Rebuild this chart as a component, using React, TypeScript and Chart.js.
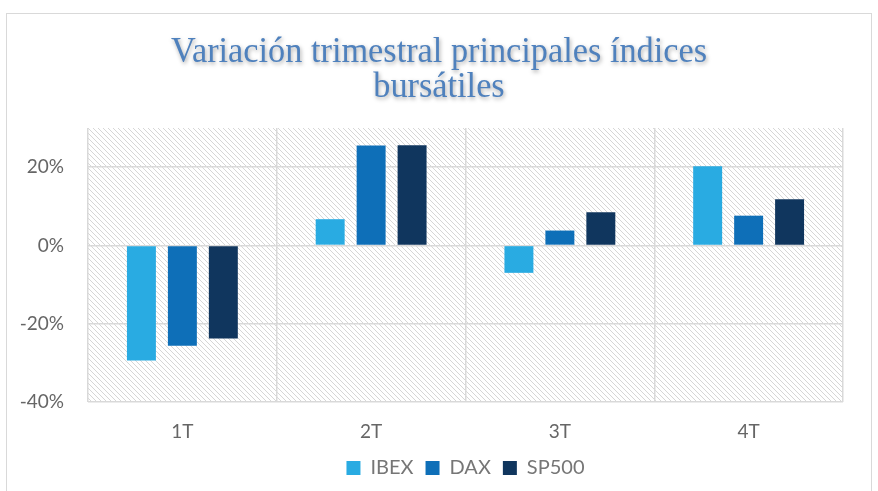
import React, { useEffect, useRef } from "react";
import { Chart, registerables } from "chart.js";

Chart.register(...registerables);

const categories = ["1T", "2T", "3T", "4T"];
const ibex = [-29.4, 6.7, -7.0, 20.2];
const dax = [-25.6, 25.5, 3.8, 7.6];
const sp500 = [-23.8, 25.6, 8.5, 11.8];
const titleLines = ["Variación trimestral principales índices", "bursátiles"];

const hatchPlugin = {
  id: "hatchBg",
  beforeDraw(chart: any) {
    const { ctx, chartArea } = chart;
    if (!chartArea) return;
    const tile = document.createElement("canvas");
    tile.width = 5;
    tile.height = 5;
    const t = tile.getContext("2d")!;
    t.fillStyle = "#ffffff";
    t.fillRect(0, 0, 5, 5);
    t.strokeStyle = "#d6d6d6";
    t.lineWidth = 1;
    t.beginPath();
    t.moveTo(0, 0);
    t.lineTo(5, 5);
    t.moveTo(-1, 4);
    t.lineTo(1, 6);
    t.moveTo(4, -1);
    t.lineTo(6, 1);
    t.stroke();
    const pat = ctx.createPattern(tile, "repeat");
    ctx.save();
    ctx.fillStyle = pat;
    ctx.fillRect(chartArea.left, chartArea.top, chartArea.right - chartArea.left, chartArea.bottom - chartArea.top);
    ctx.restore();
  },
};

const titlePlugin = {
  id: "shadowTitle",
  afterDraw(chart: any) {
    const ctx = chart.ctx;
    ctx.save();
    ctx.font = "35px 'Liberation Serif'";
    ctx.fillStyle = "#4f81bd";
    ctx.textAlign = "center";
    ctx.textBaseline = "alphabetic";
    ctx.shadowColor = "rgba(0,0,0,0.35)";
    ctx.shadowBlur = 4;
    ctx.shadowOffsetX = 1;
    ctx.shadowOffsetY = 2;
    const cx = chart.width / 2;
    const w0 = ctx.measureText(titleLines[0]).width;
    const sx = 536 / w0;
    const baselines = [62, 97];
    titleLines.forEach((line, i) => {
      ctx.save();
      ctx.translate(cx, baselines[i]);
      ctx.scale(sx, 1);
      ctx.fillText(line, 0, 0);
      ctx.restore();
    });
    ctx.restore();
  },
};

export default function App() {
  const ref = useRef<HTMLCanvasElement | null>(null);
  useEffect(() => {
    if (!ref.current) return;
    const font = { family: "Lato", size: 19 };
    const chart = new Chart(ref.current, {
      type: "bar",
      data: {
        labels: categories,
        datasets: [
          { label: "IBEX", data: ibex, backgroundColor: "#29abe2" },
          { label: "DAX", data: dax, backgroundColor: "#0e6fb8" },
          { label: "SP500", data: sp500, backgroundColor: "#10365e" },
        ],
      },
      options: {
        animation: false,
        responsive: false,
        maintainAspectRatio: false,
        datasets: { bar: { categoryPercentage: 0.651, barPercentage: 0.707 } },
        layout: { padding: { top: 128, right: 35, left: 0, bottom: 3 } },
        plugins: {
          title: { display: false },
          tooltip: { enabled: false },
          legend: {
            position: "bottom",
            fullSize: false,
            labels: { boxWidth: 14, boxHeight: 14, font: { family: "Lato", size: 20 }, color: "#767676", padding: 12 },
          },
        },
        scales: {
          x: {
            afterFit(scale: any) {
              scale.height = 44;
            },
            grid: { color: "#d9d9d9", lineWidth: 1.5, drawTicks: false, offset: true },
            border: { display: false },
            ticks: { font, color: "#666666", padding: 18 },
          },
          y: {
            min: -40,
            max: 30,
            afterFit(scale: any) {
              scale.width = 88;
            },
            afterBuildTicks(scale: any) {
              scale.ticks = scale.ticks.filter((t: any) => t.value !== 30);
            },
            grid: { color: "#d9d9d9", lineWidth: 1.5, drawTicks: false },
            border: { display: false },
            ticks: {
              stepSize: 20,
              font,
              color: "#666666",
              padding: 24,
              callback: (v: any) => v + "%",
            },
          },
        },
      },
      plugins: [hatchPlugin, titlePlugin],
    });
    return () => chart.destroy();
  }, []);
  return (
    <div style={{ position: "fixed", left: 0, top: 0, width: 878, height: 491, overflow: "hidden", background: "#fff" }}>
      <div
        style={{
          position: "absolute",
          left: 6,
          top: 13,
          width: 866,
          height: 500,
          border: "1.5px solid #d9d9d9",
          boxSizing: "border-box",
        }}
      />
      <canvas ref={ref} width={878} height={491} style={{ position: "absolute", left: 0, top: 0 }} />
    </div>
  );
}
